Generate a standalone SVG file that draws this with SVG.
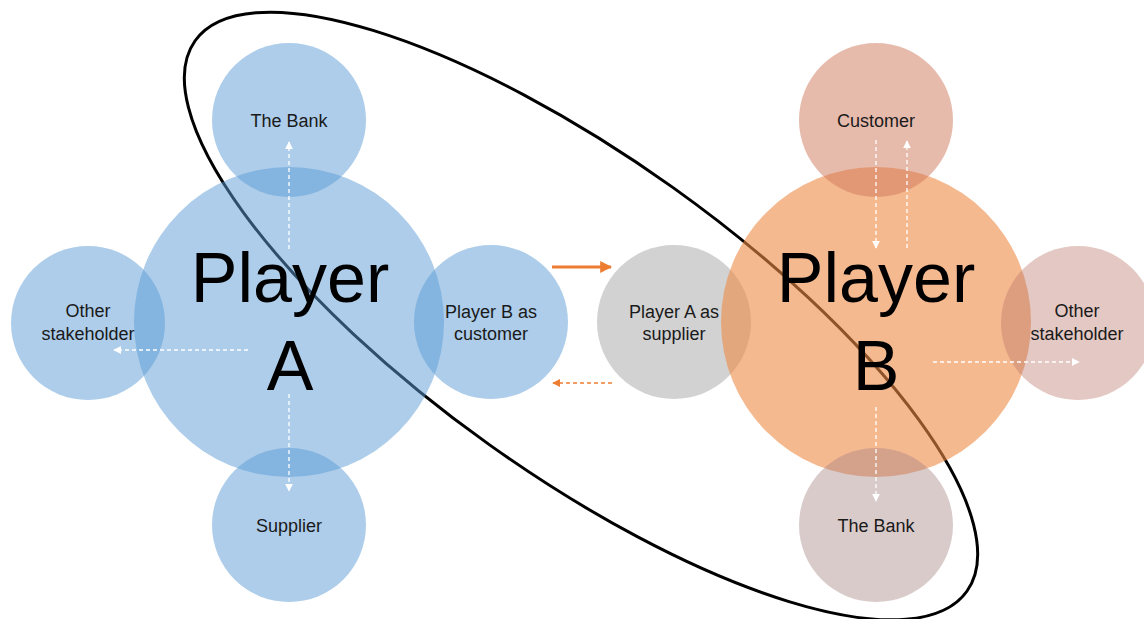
<svg xmlns="http://www.w3.org/2000/svg" width="1144" height="619" viewBox="0 0 1144 619">
<style>
.blue{fill:#5b9bd5;fill-opacity:0.5}
.orange{fill:#ee8a46;fill-opacity:0.6}
.cust{fill:#d0785a;fill-opacity:0.5}
.oth{fill:#b9756a;fill-opacity:0.4}
.bankb{fill:#a88282;fill-opacity:0.42}
.grey{fill:#a6a6a6;fill-opacity:0.5}
.lbl{font-family:"Liberation Sans",Arial,sans-serif;font-size:18px;fill:#1a1a1a;text-anchor:middle}
.big{font-family:"Liberation Sans",Arial,sans-serif;font-size:70px;fill:#000;text-anchor:middle}
.wd{stroke:#fff;stroke-width:1.3;stroke-dasharray:4 3;fill:none}
.od{stroke:#ed7d31;stroke-width:1.3;stroke-dasharray:4 3;fill:none}
</style>
<defs>
<marker id="mw" viewBox="0 0 10 10" refX="9" refY="5" markerWidth="8" markerHeight="8" markerUnits="userSpaceOnUse" orient="auto"><path d="M0,0 L10,5 L0,10 z" fill="#fff"/></marker>
<marker id="mo" viewBox="0 0 10 10" refX="9" refY="5" markerWidth="8" markerHeight="8" markerUnits="userSpaceOnUse" orient="auto"><path d="M0,0 L10,5 L0,10 z" fill="#ed7d31"/></marker>
<marker id="mo2" viewBox="0 0 10 10" refX="9" refY="5" markerWidth="12" markerHeight="12" markerUnits="userSpaceOnUse" orient="auto"><path d="M0,0 L10,5 L0,10 z" fill="#ed7d31"/></marker>
</defs>
<rect width="1144" height="619" fill="#fff"/>
<ellipse id="scope" cx="581" cy="316" rx="474" ry="158" transform="rotate(35.5 581 316)" fill="none" stroke="#000" stroke-width="3"/>
<g id="playerA"><circle class="blue" cx="289" cy="322" r="155"/></g>
<g id="bankA"><circle class="blue" cx="289" cy="120" r="77"/></g>
<g id="otherA"><circle class="blue" cx="88" cy="323" r="77"/></g>
<g id="supplierA"><circle class="blue" cx="289" cy="525" r="77"/></g>
<g id="bAsCustomer"><circle class="blue" cx="491" cy="322" r="77"/></g>
<g id="aAsSupplier"><circle class="grey" cx="674" cy="322" r="77"/></g>
<g id="playerB"><circle class="orange" cx="876" cy="322" r="155"/></g>
<g id="customerB"><circle class="cust" cx="876" cy="120" r="77"/></g>
<g id="otherB"><circle class="oth" cx="1078" cy="323" r="77"/></g>
<g id="bankB"><circle class="bankb" cx="876" cy="525" r="77"/></g>
<g id="connectors">
<line class="wd" x1="289" y1="249" x2="289" y2="142" marker-end="url(#mw)"/>
<line class="wd" x1="248" y1="350" x2="114" y2="350" marker-end="url(#mw)"/>
<line class="wd" x1="289" y1="394" x2="289" y2="491" marker-end="url(#mw)"/>
<line class="wd" x1="876" y1="140" x2="876" y2="248" marker-end="url(#mw)"/>
<line class="wd" x1="907" y1="248" x2="907" y2="141" marker-end="url(#mw)"/>
<line class="wd" x1="933" y1="362" x2="1079" y2="362" marker-end="url(#mw)"/>
<line class="wd" x1="876" y1="407" x2="876" y2="501" marker-end="url(#mw)"/>
<line x1="552" y1="267" x2="611" y2="267" stroke="#ed7d31" stroke-width="3" marker-end="url(#mo2)"/>
<line class="od" x1="612" y1="383" x2="553" y2="383" marker-end="url(#mo)"/>
</g>
<g id="labels">
<text class="big" x="290" y="302">Player</text>
<text class="big" x="290" y="390">A</text>
<text class="big" x="876" y="302">Player</text>
<text class="big" x="876" y="390">B</text>
<text class="lbl" x="289" y="127">The Bank</text>
<text class="lbl" x="88" y="317">Other</text>
<text class="lbl" x="88" y="340">stakeholder</text>
<text class="lbl" x="289" y="532">Supplier</text>
<text class="lbl" x="491" y="318">Player B as</text>
<text class="lbl" x="491" y="340">customer</text>
<text class="lbl" x="674" y="318">Player A as</text>
<text class="lbl" x="674" y="340">supplier</text>
<text class="lbl" x="876" y="127">Customer</text>
<text class="lbl" x="1077" y="317">Other</text>
<text class="lbl" x="1077" y="340">stakeholder</text>
<text class="lbl" x="876" y="532">The Bank</text>
</g>
</svg>
